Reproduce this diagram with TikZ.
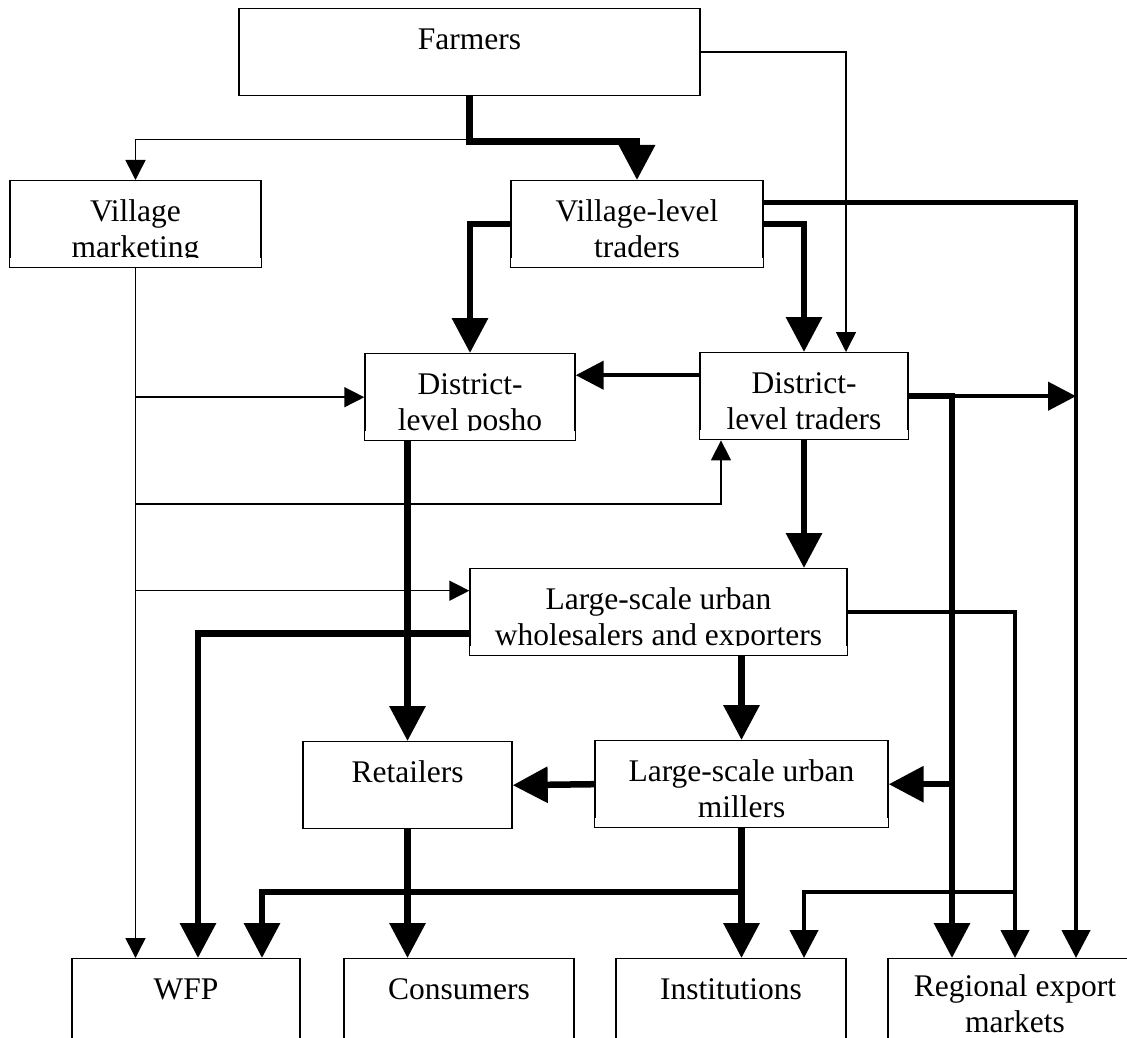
\documentclass[tikz,border=0pt]{standalone}
\usepackage{fontspec}
\setmainfont{Liberation Serif}
\usetikzlibrary{arrows.meta}

\begin{document}
\begin{tikzpicture}[x=1pt,y=-1pt,
  box/.style={draw,line width=1.4pt,anchor=north,inner sep=0pt,align=center,
    text height=41pt,text depth=46pt,font=\fontsize{31.5}{36}\selectfont},
  twoline/.style={box,text height=77pt,text depth=10pt},
  light/.style={line width=1.5pt,-{Triangle[length=20pt,width=20pt]}},
  medium/.style={line width=4.5pt,-{Triangle[length=28pt,width=28pt]}},
  heavy/.style={line width=6.5pt,-{Triangle[length=35pt,width=35pt]}}]
  \useasboundingbox (0,0) rectangle (1127,1038);

  \node[box,minimum width=461] (farm) at (469.5,8) {Farmers};
  \node[twoline,minimum width=251] (vmkt) at (135.5,180) {Village\\marketing};
  \node[twoline,minimum width=252] (vlt) at (637,180) {Village-level\\traders};
  \node[twoline,minimum width=210] (dlp) at (470,353) {District-\\level posho};
  \node[twoline,minimum width=208] (dlt) at (804,352) {District-\\level traders};
  \node[twoline,minimum width=377] (lsw) at (658.5,568) {Large-scale urban\\wholesalers and exporters};
  \node[box,minimum width=209] (ret) at (407.5,741) {Retailers};
  \node[twoline,minimum width=293] (mill) at (741.5,740) {Large-scale urban\\millers};
  \node[box,minimum width=228] (wfp) at (186,958) {WFP};
  \node[box,minimum width=230] (cons) at (459,958) {Consumers};
  \node[box,minimum width=230] (inst) at (731,958) {Institutions};
  \node[twoline,minimum width=254,text height=74pt,text depth=13pt] (rexp) at (1015,958) {Regional export\\markets};

  % second lines are cut off at the box bottom
  \foreach \n in {vmkt,vlt,dlp,dlt,lsw,mill}
    \fill[white] ([shift={(1,-1)}]\n.south west) rectangle ([shift={(-1,-10)}]\n.south east);

  \coordinate (midrow) at (0,504);
  \coordinate (split) at (0,892);
  \coordinate (exp) at ([shift={(61,0)}]rexp.north);
  \coordinate (dltdown) at ([shift={(-63,0)}]rexp.north);
  \coordinate (lswin) at ([shift={(0,-21.5)}]lsw.west);
  \coordinate (lswout) at ([shift={(0,21.5)}]lsw.west);
  \coordinate (dltleft) at ([shift={(0,-21)}]dlt.west);

  % farmers
  \draw[heavy] (farm.south) -- ++(0,45) -| (vlt.north);
  \draw[light] (farm.south) ++(0,43) -| (vmkt.north);
  \draw[light] (farm.east) -| ([shift={(42,0)}]dlt.north);

  % village-level traders
  \draw[heavy] (vlt.west) -| (dlp.north);
  \draw[heavy] (vlt.east) -| (dlt.north);
  \draw[medium] ([shift={(0,-21.5)}]vlt.east) -| (exp);

  % village marketing
  \draw[light] (vmkt.south) -- (vmkt.south |- wfp.north);
  \draw[light] (vmkt.south |- dlp.west) -- (dlp.west);
  \draw[light] (vmkt.south |- midrow) -| ([shift={(-83,0)}]dlt.south);
  \draw[light] (vmkt.south |- lswin) -- (lswin);

  % district-level traders
  \draw[medium] (dltleft) -- (dltleft -| dlp.east);
  \draw[medium] (dlt.east) -- (dlt.east -| exp);
  \draw[heavy] (dlt.east) -| (dltdown);
  \draw[heavy] (mill.east -| dltdown) -- (mill.east);
  \draw[heavy] (dlt.south) -- (dlt.south |- lsw.north);

  % wholesalers
  \draw[heavy] (lswout) -| ([shift={(12,0)}]wfp.north);
  \draw[heavy] (mill.north |- lsw.south) -- (mill.north);
  \draw[medium] (lsw.east) -| (rexp.north);
  \draw[medium] (rexp.north |- split) -| ([shift={(73,0)}]inst.north);

  % posho, millers, retailers
  \draw[heavy] (ret.north |- dlp.south) -- (ret.north);
  \draw[heavy] (mill.west) -- (ret.east);
  \draw[heavy] (ret.south) -- (ret.south |- cons.north);
  \draw[heavy] (mill.south) -- (mill.south |- inst.north);
  \draw[heavy] (mill.south |- split) -| ([shift={(76,0)}]wfp.north);
\end{tikzpicture}
\end{document}
